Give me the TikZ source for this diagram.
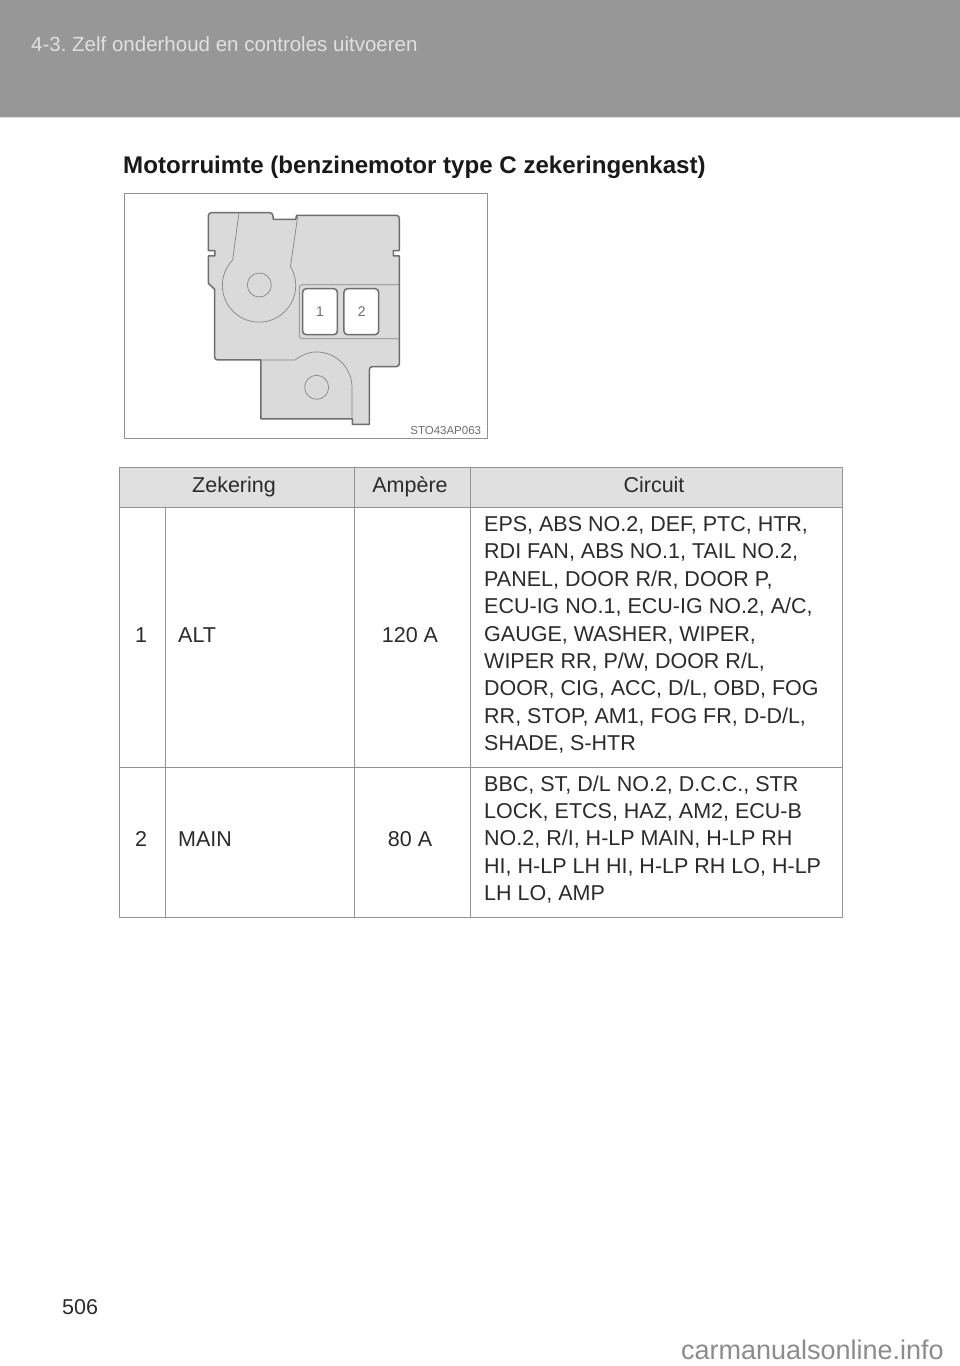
\documentclass[tikz,border=0pt]{standalone}
\usepackage{fontspec}
\setmainfont{Liberation Sans}
\frenchspacing
\definecolor{bandgray}{HTML}{979797}
\definecolor{boxgray}{HTML}{DADADA}
\definecolor{headgray}{HTML}{E0E0E0}
\definecolor{linegray}{HTML}{6E6E6E}
\definecolor{inkgray}{HTML}{2B2B2B}
\tikzset{
	listtext/.style={inner sep=0pt, text=inkgray, font=\fontsize{21.5}{27.4}\selectfont, anchor=west, align=left},
	celltext/.style={inner sep=0pt, text=inkgray, font=\fontsize{21.5}{27.4}\selectfont, text height=15.5pt, text depth=0.5pt},
	tableline/.style={draw=linegray!75, line width=1pt},
	boxline/.style={draw=linegray, line width=1.5pt, line join=round},
	thinline/.style={draw=linegray!85, line width=0.7pt},
}
\begin{document}
\begin{tikzpicture}[x=1pt, y=-1pt, line join=round, line cap=round]
	\useasboundingbox (0,0) rectangle (960,1366);
	\fill[white] (0,0) rectangle (960,1366);
	% top band
	\fill[bandgray] (0,0) rectangle (960,117);
	\draw[headgray, line width=1pt] (0,117.5) -- (960,117.5);
	\node[anchor=west, inner sep=0pt, text=headgray, font=\fontsize{20.5}{24}\selectfont] (chapter) at (31,44.5) {4-3. Zelf onderhoud en controles uitvoeren};
	\node[anchor=west, inner sep=0pt, text=black!90, font=\fontsize{24.1}{28}\selectfont\bfseries] (title) at (123,167) {Motorruimte (benzinemotor type C zekeringenkast)};
	% fuse box picture, in units of a third of a pixel
	\draw[linegray!75, line width=1pt] (124,193) rectangle (487,438.5);
	\begin{scope}[shift={(120,190)}, x=0.3333pt, y=-0.3333pt]
		\filldraw[boxline, fill=boxgray, rounded corners=3pt] (265,68) -- (458,68) [sharp corners] -- (460,88) -- (527,88) -- (530,76) [rounded corners=3pt] -- (838,76) [sharp corners] -- (838,182) -- (820,182) -- (820,198) -- (838,198) [rounded corners=3pt] -- (838,530) -- (748,530) [sharp corners] -- (748,703) -- (697,703) -- (697,687) -- (423,687) -- (423,510) [rounded corners=3pt] -- (284,510) [sharp corners] -- (284,298) -- (265,280) -- (265,198) -- (285,198) -- (285,182) -- (265,182) [rounded corners=3pt] -- cycle;
		\draw[thinline] (357,68) -- (338,210) arc[start angle=224, end angle=-31, radius=110] -- (533,80);
		\draw[thinline] (418,285) circle[radius=36];
		\draw[thinline] (423,510) -- (525,510) .. controls (545,495) and (565,486) .. (590,486) arc[start angle=-90, end angle=0, radius=106] -- (696,687);
		\draw[thinline] (590,592) circle[radius=36];
		\draw[thinline, rounded corners=3pt] (838,284) -- (538,284) -- (538,446) -- (838,446);
		\filldraw[boxline, fill=white, rounded corners=3.5pt] (548,296) rectangle (652,434);
		\filldraw[boxline, fill=white, rounded corners=3.5pt] (672,296) rectangle (776,434);
		\node[inner sep=0pt, text=linegray, font=\fontsize{14}{16}\selectfont] (fuseA) at (600,366) {1};
		\node[inner sep=0pt, text=linegray, font=\fontsize{14}{16}\selectfont] (fuseB) at (725,366) {2};
		\node[anchor=east, inner sep=0pt, text=linegray, font=\fontsize{11.5}{13}\selectfont] (partno) at (1084,721) {STO43AP063};
	\end{scope}
	% table
	\fill[headgray] (119.5,467) rectangle (842,507);
	\draw[tableline] (119.5,467) rectangle (842,917) (119.5,507) -- (842,507) (119.5,767) -- (842,767);
	\draw[tableline] (354,467) -- (354,917) (470.5,467) -- (470.5,917) (165.5,507) -- (165.5,917);
	\node[celltext] (zekering) at (234,485) {Zekering};
	\node[celltext] (ampere) at (410,485) {Ampère};
	\node[celltext] (circuit) at (654,485) {Circuit};
	\node[celltext] (numA) at (141,634.5) {1};
	\node[celltext, anchor=west] (alt) at (178,634.5) {ALT};
	\node[celltext] (ampA) at (410,634.5) {120 A};
	\node[listtext] (listA) at (484,635) {EPS, ABS NO.2, DEF, PTC, HTR,\\RDI FAN, ABS NO.1, TAIL NO.2,\\PANEL, DOOR R/R, DOOR P,\\ECU-IG NO.1, ECU-IG NO.2, A/C,\\GAUGE, WASHER, WIPER,\\WIPER RR, P/W, DOOR R/L,\\DOOR, CIG, ACC, D/L, OBD, FOG\\RR, STOP, AM1, FOG FR, D-D/L,\\SHADE, S-HTR};
	\node[celltext] (numB) at (141,839) {2};
	\node[celltext, anchor=west] (main) at (178,839) {MAIN};
	\node[celltext] (ampB) at (410,839) {80 A};
	\node[listtext] (listB) at (484,839.5) {BBC, ST, D/L NO.2, D.C.C., STR\\LOCK, ETCS, HAZ, AM2, ECU-B\\NO.2, R/I, H-LP MAIN, H-LP RH\\HI, H-LP LH HI, H-LP RH LO, H-LP\\LH LO, AMP};
	% page number and site name
	\node[celltext, anchor=west] (page) at (62,1307) {506};
	\node[anchor=east, inner sep=0pt, text=black!45, font=\fontsize{27}{30}\selectfont] (site) at (944,1350) {carmanualsonline.info};
\end{tikzpicture}
\end{document}
